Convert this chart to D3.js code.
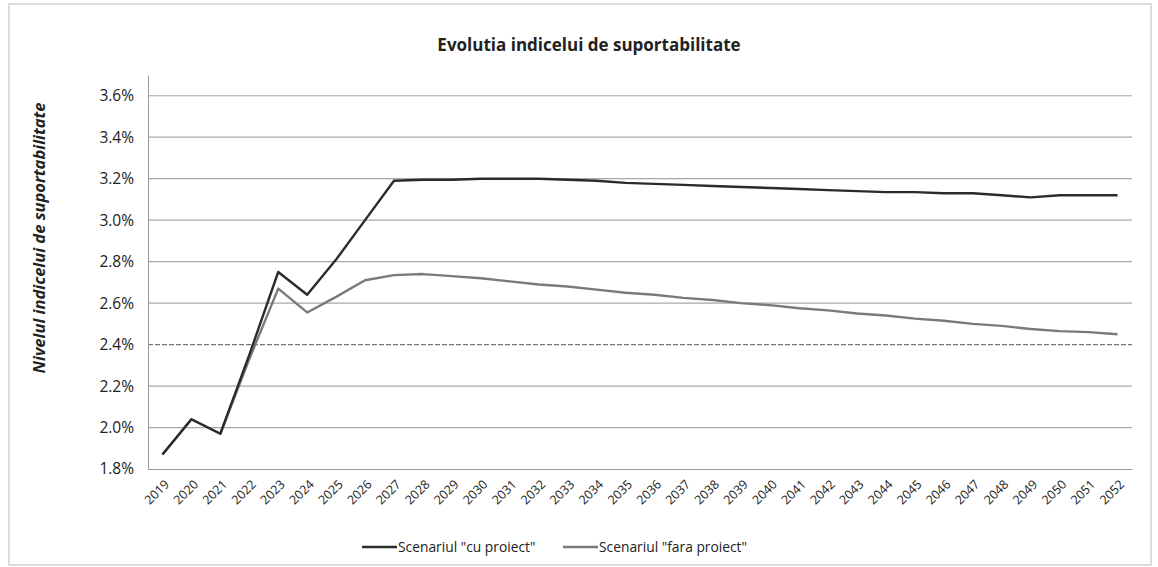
<!DOCTYPE html>
<html>
<head>
<meta charset="utf-8">
<script src="https://cdn.jsdelivr.net/npm/d3@7"></script>
<style>
  body { margin: 0; background: #fff; }
  svg text { font-family: "Open Sans", Lato, sans-serif; fill: #222; }
</style>
</head>
<body>
<div id="chart"></div>
<script>
const years = d3.range(2019, 2053).map(String);
const yTicks = [0.018, 0.020, 0.022, 0.024, 0.026, 0.028, 0.030, 0.032, 0.034, 0.036];
const cuProiect = [1.87, 2.04, 1.97, 2.35, 2.75, 2.64, 2.81, 3.00, 3.19, 3.195, 3.195, 3.20, 3.20, 3.20, 3.195, 3.19,
  3.18, 3.175, 3.17, 3.165, 3.16, 3.155, 3.15, 3.145, 3.14, 3.135, 3.135, 3.13, 3.13, 3.12, 3.11, 3.12, 3.12, 3.12];
const faraProiect = [1.87, 2.04, 1.97, 2.33, 2.67, 2.555, 2.63, 2.71, 2.735, 2.74, 2.73, 2.72, 2.705, 2.69, 2.68, 2.665,
  2.65, 2.64, 2.625, 2.615, 2.60, 2.59, 2.575, 2.565, 2.55, 2.54, 2.525, 2.515, 2.50, 2.49, 2.475, 2.465, 2.46, 2.45];
const seriesNames = ['Scenariul "cu proiect"', 'Scenariul "fara proiect"'];
const seriesColors = ["#2b2b2b", "#7a7a7a"];

const W = 1158, H = 567;
const margin = { top: 75, right: 26, bottom: 98, left: 148 };
const width = W - margin.left - margin.right,
  height = H - margin.top - margin.bottom;

const root = d3.select("#chart").append("svg")
  .attr("width", W)
  .attr("height", H);

// outer frame
root.append("rect")
  .attr("x", 9).attr("y", 4)
  .attr("width", W - 16).attr("height", H - 6)
  .style("fill", "none")
  .style("stroke", "#bbb");

root.append("text")
  .attr("x", 589)
  .attr("y", 51)
  .attr("text-anchor", "middle")
  .style("font-size", "17px")
  .style("font-weight", "700")
  .text("Evolutia indicelui de suportabilitate");

const svg = root.append("g")
  .attr("transform", `translate(${margin.left},${margin.top})`);

const x = d3.scalePoint().domain(years).range([0, width]).padding(0.5);
const y = d3.scaleLinear().domain([0.018, 0.037]).range([height, 0]);

// gridlines
svg.selectAll("line.grid")
  .data(yTicks.slice(1))
  .join("line")
  .attr("class", "grid")
  .attr("x1", 0).attr("x2", width)
  .attr("y1", d => y(d)).attr("y2", d => y(d))
  .style("stroke", d => Math.abs(d - 0.024) < 1e-9 ? "#777" : "#a8a8a8")
  .style("stroke-dasharray", d => Math.abs(d - 0.024) < 1e-9 ? "5,2" : null)
  .style("stroke-width", 1.2);

const yAxis = svg.append("g")
  .call(d3.axisLeft(y).tickValues(yTicks).tickFormat(d3.format(".1%")).tickSize(0).tickPadding(14));
yAxis.select(".domain").style("stroke", "#999");
yAxis.selectAll("text").style("font-size", "15.5px");

const xAxis = svg.append("g")
  .attr("transform", `translate(0,${height})`)
  .call(d3.axisBottom(x).tickSize(0));
xAxis.select(".domain").style("stroke", "#999");
xAxis.selectAll("text")
  .style("font-size", "12.5px")
  .attr("text-anchor", "end")
  .attr("x", 4)
  .attr("y", 13)
  .attr("dy", "0.35em")
  .attr("transform", "rotate(-45, 4, 13)");

root.append("text")
  .attr("transform", "rotate(-90)")
  .attr("x", -238)
  .attr("y", 45)
  .attr("text-anchor", "middle")
  .style("font-size", "16.5px")
  .style("font-weight", "700")
  .style("font-style", "italic")
  .text("Nivelul indicelui de suportabilitate");

const line = d3.line()
  .x((d, i) => x(years[i]))
  .y(d => y(d / 100));

[faraProiect, cuProiect].forEach((vals, k) => {
  svg.append("path")
    .datum(vals)
    .attr("d", line)
    .style("fill", "none")
    .style("stroke", seriesColors[1 - k])
    .style("stroke-width", 2.4)
    .style("stroke-linejoin", "round");
});

// legend
const legend = root.append("g").attr("transform", "translate(0,552)");
const legendX = [362, 563];
seriesNames.forEach((name, i) => {
  legend.append("line")
    .attr("x1", legendX[i]).attr("x2", legendX[i] + 35)
    .attr("y1", -5).attr("y2", -5)
    .style("stroke", seriesColors[i])
    .style("stroke-width", 2.5);
  legend.append("text")
    .attr("x", legendX[i] + 36)
    .attr("y", 0)
    .style("font-size", "13.8px")
    .text(name);
});
</script>
</body>
</html>
